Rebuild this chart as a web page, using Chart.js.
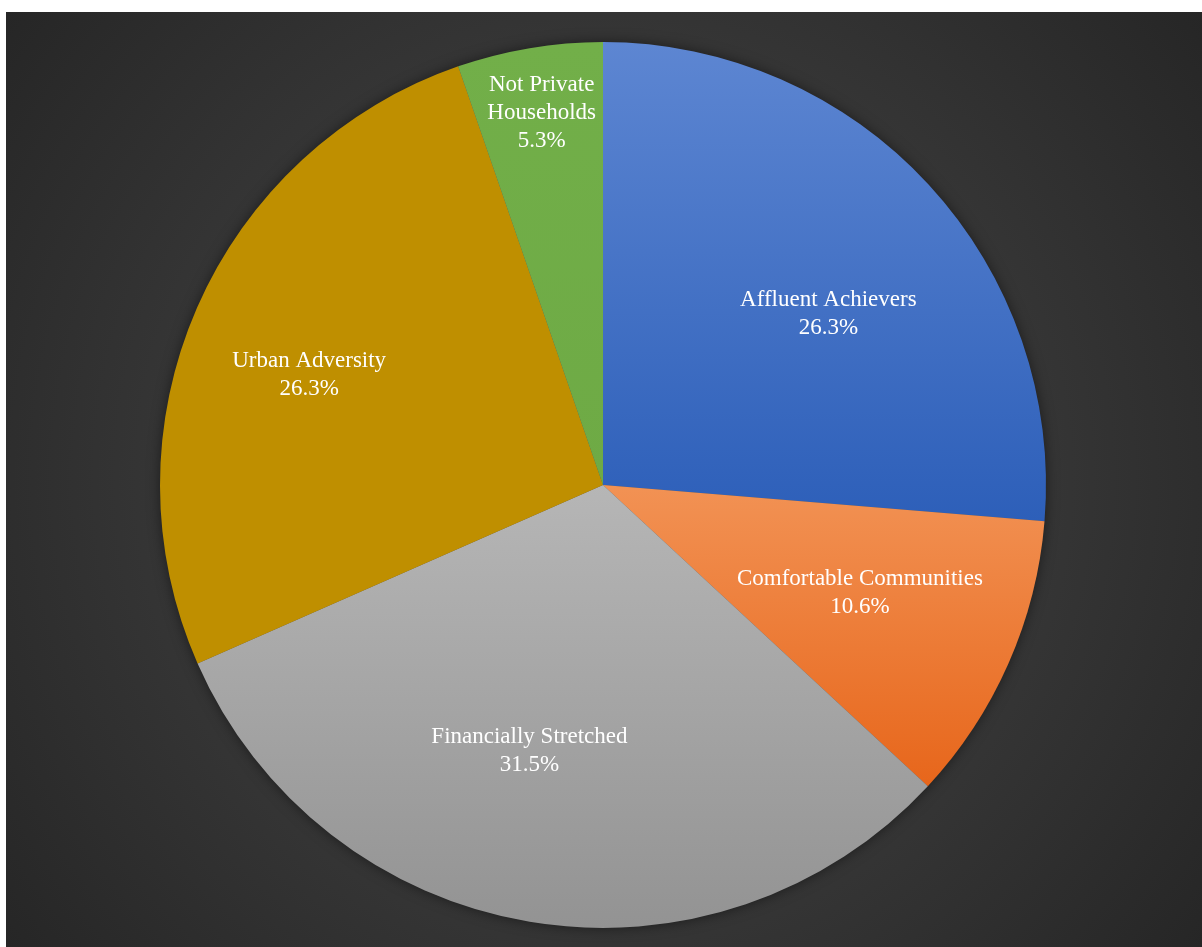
<!DOCTYPE html>
<html>
<head>
<meta charset="utf-8">
<script src="https://cdn.jsdelivr.net/npm/chart.js@4/dist/chart.umd.min.js"></script>
<style>
    html, body {
        margin: 0;
        padding: 0;
        background: #ffffff;
    }
    #frame {
        position: absolute;
        left: 6px;
        top: 12px;
        width: 1196px;
        height: 935px;
        background: radial-gradient(circle farthest-corner at 50% 50%, #464646 0%, #3a3a3a 45%, #262626 100%);
    }
</style>
</head>
<body>
<div id="frame">
    <canvas id="chartSegments" width="1196" height="935"></canvas>
</div>
<script>
const segmentLabels = [
    ['Affluent Achievers'],
    ['Comfortable Communities'],
    ['Financially Stretched'],
    ['Urban Adversity'],
    ['Not Private', 'Households'],
];
const segmentShares = [26.3, 10.6, 31.5, 26.3, 5.3];

// top / bottom shade of each slice's vertical gradient
const sliceShades = [
    ['#5d86d2', '#2d5fb9'],
    ['#f29254', '#e7661b'],
    ['#b6b6b6', '#939393'],
    ['#bf8f00', '#bf8f00'],
    ['#72af49', '#6eaa45'],
];

// how far out (fraction of radius) and how far round (degrees) each label sits
const labelFit = [
    { r: 0.640, turn: 5.3 },
    { r: 0.628, turn: -1.2 },
    { r: 0.620, turn: 6.0 },
    { r: 0.709, turn: -2.9 },
    { r: 0.853, turn: 0.2 },
];

const FONT = '"Liberation Serif", "Times New Roman", serif';

function pieGeometry(chart) {
    const area = chart.chartArea;
    return {
        cx: (area.left + area.right) / 2,
        cy: (area.top + area.bottom) / 2,
        r: Math.min(area.right - area.left, area.bottom - area.top) / 2,
    };
}

function sliceYRange(chart, index) {
    const { cy, r } = pieGeometry(chart);
    const total = segmentShares.reduce((a, b) => a + b, 0);
    let before = 0;
    for (let i = 0; i < index; i++) before += segmentShares[i];
    const a0 = -Math.PI / 2 + (before / total) * Math.PI * 2;
    const a1 = a0 + (segmentShares[index] / total) * Math.PI * 2;
    let top = cy;
    let bottom = cy;
    for (let k = 0; k <= 60; k++) {
        const y = cy + r * Math.sin(a0 + ((a1 - a0) * k) / 60);
        top = Math.min(top, y);
        bottom = Math.max(bottom, y);
    }
    return [top, bottom];
}

function sliceFill(ctx) {
    const chart = ctx.chart;
    const shades = sliceShades[ctx.dataIndex];
    if (!chart.chartArea) return shades[0];
    const [top, bottom] = sliceYRange(chart, ctx.dataIndex);
    const grad = chart.ctx.createLinearGradient(0, top, 0, bottom);
    grad.addColorStop(0, shades[0]);
    grad.addColorStop(1, shades[1]);
    return grad;
}

const pieShadow = {
    id: 'pieShadow',
    beforeDatasetsDraw(chart) {
        const { cx, cy, r } = pieGeometry(chart);
        const c = chart.ctx;
        c.save();
        c.shadowColor = 'rgba(0, 0, 0, 0.55)';
        c.shadowBlur = 14;
        c.fillStyle = '#555555';
        c.beginPath();
        c.arc(cx, cy, r - 1, 0, Math.PI * 2);
        c.fill();
        c.restore();
    },
};

const sliceLabels = {
    id: 'sliceLabels',
    afterDatasetsDraw(chart) {
        const c = chart.ctx;
        const meta = chart.getDatasetMeta(0);
        c.save();
        c.fillStyle = '#ffffff';
        c.font = '23px ' + FONT;
        c.textAlign = 'center';
        c.textBaseline = 'middle';
        meta.data.forEach((arc, i) => {
            const p = arc.getProps(['x', 'y', 'startAngle', 'endAngle', 'outerRadius'], true);
            const mid = (p.startAngle + p.endAngle) / 2 + (labelFit[i].turn * Math.PI) / 180;
            const d = p.outerRadius * labelFit[i].r;
            const x = p.x + d * Math.cos(mid);
            const y = p.y + d * Math.sin(mid);
            const lines = [...segmentLabels[i], segmentShares[i].toFixed(1) + '%'];
            const lh = 28;
            lines.forEach((text, k) => {
                c.fillText(text, x, y + 1 + (k - (lines.length - 1) / 2) * lh);
            });
        });
        c.restore();
    },
};

new Chart(document.getElementById('chartSegments'), {
    type: 'pie',
    data: {
        labels: segmentLabels.map((l) => l.join(' ')),
        datasets: [
            {
                data: segmentShares,
                backgroundColor: sliceFill,
                borderWidth: 0,
            },
        ],
    },
    options: {
        responsive: false,
        animation: false,
        layout: {
            padding: { left: 154, right: 156, top: 30, bottom: 19 },
        },
        plugins: {
            legend: { display: false },
            tooltip: { enabled: false },
        },
    },
    plugins: [pieShadow, sliceLabels],
});
</script>
</body>
</html>
